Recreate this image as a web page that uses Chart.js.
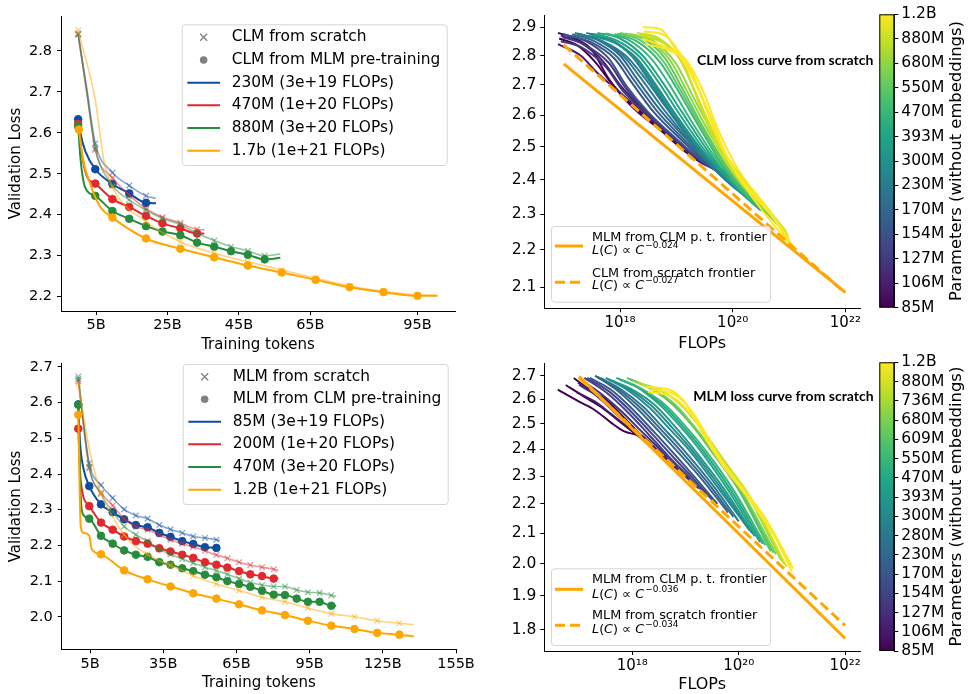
<!DOCTYPE html>
<html>
<head>
<meta charset="utf-8">
<title>CLM / MLM loss curves</title>
<script src="https://cdn.jsdelivr.net/npm/chart.js@4.4.1/dist/chart.umd.min.js"></script>
<style>
  html, body { margin: 0; padding: 0; background: #fff; }
  #fig { position: relative; width: 968px; height: 694px; overflow: hidden; }
  #fig canvas { position: absolute; }
</style>
</head>
<body>
<div id="fig">
  <canvas id="clmTokens" width="484" height="356" style="left:0;top:0"></canvas>
  <canvas id="mlmTokens" width="484" height="344" style="left:0;top:350px"></canvas>
  <canvas id="clmFlops" width="396" height="356" style="left:484px;top:0"></canvas>
  <canvas id="mlmFlops" width="396" height="344" style="left:484px;top:350px"></canvas>
  <canvas id="clmBar" width="108" height="340" style="left:860px;top:0"></canvas>
  <canvas id="mlmBar" width="108" height="344" style="left:860px;top:350px"></canvas>
</div>
<script>
// ---- top left: CLM validation loss vs training tokens (billions) ----
var clmSizes = ['230M (3e+19 FLOPs)', '470M (1e+20 FLOPs)', '880M (3e+20 FLOPs)', '1.7b (1e+21 FLOPs)'];
var clmScratchTokens = [
  [0, 2.4, 4.8, 9.6, 14.3, 19.0, 21.8],
  [0, 2.4, 4.8, 9.6, 14.3, 19.0, 23.6, 28.6, 33.3, 35.3],
  [0, 2.4, 4.8, 9.6, 14.3, 19.0, 23.6, 28.6, 33.3, 38.1, 42.8, 47.5, 52.2, 56.6],
  [0, 4.8, 7.2, 9.6, 19.0, 28.6, 38.1, 47.5, 57.0, 66.5, 76.0, 85.5, 95.0, 100.6]
];
var clmScratchLoss = [
  [2.842, 2.71, 2.574, 2.503, 2.471, 2.446, 2.44],
  [2.84, 2.70, 2.558, 2.49, 2.448, 2.415, 2.394, 2.38, 2.364, 2.363],
  [2.84, 2.70, 2.562, 2.472, 2.436, 2.411, 2.391, 2.376, 2.355, 2.337, 2.322, 2.312, 2.30, 2.304],
  [2.85, 2.68, 2.533, 2.468, 2.383, 2.334, 2.306, 2.285, 2.265, 2.245, 2.226, 2.213, 2.204, 2.203]
];
var clmPretrainTokens = [
  [0, 0.6, 2.0, 4.8, 9.6, 14.3, 19.0, 21.8],
  [0, 1.0, 2.4, 4.8, 9.6, 14.3, 19.0, 23.6, 28.6, 33.3, 35.3],
  [0, 0.7, 1.9, 4.8, 9.6, 14.3, 19.0, 23.6, 28.6, 33.3, 38.1, 42.8, 47.5, 52.2, 56.6],
  [0.2, 1.4, 3.3, 6.1, 9.6, 19.0, 28.6, 38.1, 47.5, 57.0, 66.5, 76.0, 85.5, 95.0, 100.6]
];
var clmPretrainLoss = [
  [2.633, 2.600, 2.555, 2.511, 2.475, 2.452, 2.429, 2.428],
  [2.622, 2.55, 2.495, 2.476, 2.438, 2.419, 2.397, 2.379, 2.367, 2.354, 2.354],
  [2.616, 2.533, 2.468, 2.446, 2.409, 2.39, 2.372, 2.359, 2.35, 2.332, 2.322, 2.311, 2.302, 2.291, 2.295],
  [2.608, 2.533, 2.477, 2.42, 2.393, 2.342, 2.317, 2.296, 2.276, 2.259, 2.241, 2.223, 2.211, 2.202, 2.202]
];
var clmTokenTicks = [5, 25, 45, 65, 95];
var clmLossTicks = [2.2, 2.3, 2.4, 2.5, 2.6, 2.7, 2.8];

// ---- bottom left: MLM validation loss vs training tokens (billions) ----
var mlmSizes = ['85M (3e+19 FLOPs)', '200M (1e+20 FLOPs)', '470M (3e+20 FLOPs)', '1.2B (1e+21 FLOPs)'];
var mlmScratchTokens = [
  [0.2, 4.7, 9.5, 14.3, 19.0, 23.8, 28.6, 33.4, 38.0, 42.8, 47.3, 52.1, 56.8, 58.2],
  [0.2, 4.7, 9.5, 14.3, 19.0, 23.8, 28.6, 33.4, 38.0, 42.8, 47.3, 52.1, 56.8, 61.3, 66.1, 70.7, 75.5, 80.3, 82.2],
  [0.2, 4.7, 9.5, 14.3, 19.0, 23.8, 28.6, 33.4, 38.0, 42.8, 47.3, 52.1, 56.8, 61.3, 66.1, 70.7, 75.5, 80.3, 84.9, 89.7, 94.3, 99.1, 103.9, 105.9],
  [0.2, 4.7, 9.5, 14.3, 19.0, 23.8, 28.6, 33.4, 38.0, 42.8, 47.3, 56.8, 66.1, 75.5, 84.9, 94.3, 103.9, 113.4, 122.7, 131.8, 137.7]
];
var mlmScratchLoss = [
  [2.666, 2.43, 2.369, 2.333, 2.301, 2.284, 2.275, 2.257, 2.245, 2.235, 2.225, 2.221, 2.216, 2.214],
  [2.66, 2.416, 2.348, 2.312, 2.274, 2.253, 2.244, 2.23, 2.216, 2.205, 2.196, 2.185, 2.173, 2.164, 2.153, 2.145, 2.139, 2.133, 2.13],
  [2.673, 2.42, 2.344, 2.294, 2.253, 2.23, 2.212, 2.189, 2.175, 2.162, 2.151, 2.139, 2.129, 2.119, 2.107, 2.096, 2.089, 2.085, 2.085, 2.075, 2.069, 2.067, 2.06, 2.057],
  [2.653, 2.471, 2.344, 2.28, 2.23, 2.196, 2.175, 2.157, 2.144, 2.13, 2.115, 2.092, 2.074, 2.055, 2.042, 2.025, 2.009, 2.0, 1.989, 1.982, 1.978]
];
var mlmPretrainTokens = [
  [0.2, 0.9, 2.3, 4.7, 9.5, 14.3, 19.0, 23.8, 28.6, 33.4, 38.0, 42.8, 47.3, 52.1, 56.8, 58.2],
  [0.2, 1.2, 4.7, 9.5, 14.3, 19.0, 23.8, 28.6, 33.4, 38.0, 42.8, 47.3, 52.1, 56.8, 61.3, 66.1, 70.7, 75.5, 80.3, 82.2],
  [0.2, 1.2, 2.3, 4.7, 9.5, 14.3, 19.0, 23.8, 28.6, 33.4, 38.0, 42.8, 47.3, 52.1, 56.8, 61.3, 66.1, 70.7, 75.5, 80.3, 84.9, 89.7, 94.3, 99.1, 103.9, 105.9],
  [0.2, 1.2, 2.3, 4.7, 5.7, 9.5, 19.0, 28.6, 38.0, 47.3, 56.8, 66.1, 75.5, 84.9, 94.3, 103.9, 113.4, 122.7, 131.8, 137.7]
];
var mlmPretrainLoss = [
  [2.595, 2.489, 2.416, 2.366, 2.315, 2.293, 2.273, 2.257, 2.251, 2.235, 2.224, 2.212, 2.204, 2.195, 2.193, 2.191],
  [2.527, 2.38, 2.31, 2.264, 2.244, 2.225, 2.212, 2.205, 2.192, 2.183, 2.174, 2.165, 2.153, 2.146, 2.138, 2.128, 2.119, 2.114, 2.107, 2.107],
  [2.594, 2.335, 2.285, 2.275, 2.227, 2.205, 2.186, 2.174, 2.168, 2.153, 2.146, 2.136, 2.128, 2.118, 2.111, 2.1, 2.092, 2.084, 2.073, 2.062, 2.061, 2.051, 2.042, 2.042, 2.031, 2.031],
  [2.566, 2.253, 2.235, 2.227, 2.19, 2.175, 2.13, 2.105, 2.085, 2.066, 2.051, 2.035, 2.018, 2.005, 1.989, 1.975, 1.966, 1.955, 1.95, 1.945]
];
var mlmTokenTicks = [5, 35, 65, 95, 125, 155];
var mlmLossTicks = [2.0, 2.1, 2.2, 2.3, 2.4, 2.5, 2.6, 2.7];

// ---- right: loss vs FLOPs, one curve per run, [log10 FLOPs, loss] ----
var clmParamLabels = ['85M', '106M', '127M', '154M', '170M', '230M', '300M', '393M', '470M', '550M', '680M', '880M', '1.2B'];
var clmCurveSizes = ['85M', '85M', '106M', '106M', '127M', '127M', '154M', '154M', '170M', '170M', '230M', '230M', '230M',
  '300M', '300M', '393M', '393M', '470M', '470M', '550M', '550M', '680M', '680M', '880M', '880M', '880M', '1.2B', '1.2B', '1.2B', '1.2B'];
var clmCurves = [
  [[16.9, 2.880], [17.2, 2.860], [17.5, 2.820], [17.8, 2.720], [18.2, 2.630], [18.7, 2.555], [19.2, 2.480], [19.6, 2.440], [19.9, 2.425]],
  [[16.92, 2.860], [17.25, 2.835], [17.55, 2.780], [17.85, 2.705], [18.3, 2.620], [18.8, 2.545], [19.3, 2.470], [19.75, 2.430]],
  [[16.9, 2.840], [17.3, 2.800], [17.6, 2.740], [17.9, 2.690], [18.4, 2.610], [18.9, 2.530], [19.4, 2.455], [19.85, 2.420]],
  [[16.95, 2.870], [17.3, 2.845], [17.7, 2.780], [18.0, 2.700], [18.4, 2.620], [18.9, 2.535], [19.4, 2.460], [19.95, 2.410]],
  [[16.95, 2.850], [17.3, 2.830], [17.75, 2.760], [18.05, 2.680], [18.5, 2.600], [19.0, 2.520], [19.5, 2.450], [19.95, 2.415]],
  [[16.98, 2.865], [17.35, 2.840], [17.8, 2.775], [18.1, 2.690], [18.5, 2.605], [19.0, 2.522], [19.5, 2.452], [19.98, 2.408]],
  [[17.0, 2.875], [17.4, 2.850], [17.8, 2.790], [18.1, 2.700], [18.5, 2.610], [19.0, 2.525], [19.5, 2.450], [20.0, 2.400]],
  [[17.1, 2.870], [17.5, 2.845], [17.9, 2.790], [18.2, 2.710], [18.6, 2.610], [19.1, 2.520], [19.6, 2.440], [20.1, 2.380]],
  [[17.15, 2.875], [17.55, 2.850], [17.95, 2.795], [18.25, 2.715], [18.65, 2.615], [19.15, 2.520], [19.65, 2.435], [20.15, 2.370]],
  [[17.2, 2.880], [17.6, 2.855], [18.0, 2.800], [18.3, 2.720], [18.7, 2.620], [19.2, 2.520], [19.7, 2.430], [20.2, 2.360]],
  [[17.25, 2.878], [17.65, 2.852], [18.05, 2.800], [18.38, 2.720], [18.75, 2.625], [19.25, 2.515], [19.75, 2.420], [20.25, 2.350]],
  [[17.3, 2.875], [17.7, 2.850], [18.1, 2.800], [18.45, 2.720], [18.8, 2.630], [19.3, 2.510], [19.8, 2.410], [20.3, 2.340]],
  [[17.4, 2.880], [17.8, 2.860], [18.2, 2.800], [18.5, 2.720], [18.9, 2.610], [19.4, 2.490], [19.9, 2.400], [20.4, 2.330]],
  [[17.45, 2.875], [17.85, 2.852], [18.25, 2.795], [18.55, 2.715], [18.95, 2.605], [19.45, 2.485], [19.95, 2.395], [20.42, 2.325]],
  [[17.5, 2.870], [17.9, 2.845], [18.3, 2.790], [18.6, 2.710], [19.0, 2.600], [19.5, 2.480], [20.0, 2.390], [20.45, 2.320]],
  [[17.55, 2.875], [17.95, 2.852], [18.35, 2.795], [18.68, 2.710], [19.05, 2.605], [19.52, 2.485], [20.05, 2.380], [20.48, 2.315]],
  [[17.6, 2.880], [18.0, 2.860], [18.4, 2.800], [18.75, 2.710], [19.1, 2.610], [19.55, 2.490], [20.1, 2.370], [20.5, 2.310]],
  [[17.75, 2.878], [18.15, 2.855], [18.55, 2.790], [18.88, 2.700], [19.22, 2.595], [19.68, 2.470], [20.2, 2.360], [20.6, 2.300]],
  [[17.9, 2.875], [18.3, 2.850], [18.7, 2.780], [19.0, 2.690], [19.35, 2.580], [19.8, 2.450], [20.3, 2.350], [20.7, 2.290]],
  [[17.95, 2.878], [18.35, 2.855], [18.75, 2.785], [19.05, 2.690], [19.4, 2.575], [19.85, 2.445], [20.35, 2.345], [20.75, 2.280]],
  [[18.0, 2.880], [18.4, 2.860], [18.8, 2.790], [19.1, 2.690], [19.45, 2.570], [19.9, 2.440], [20.4, 2.340], [20.8, 2.270]],
  [[18.1, 2.878], [18.5, 2.855], [18.9, 2.780], [19.2, 2.675], [19.55, 2.555], [20.0, 2.425], [20.5, 2.330], [20.85, 2.265]],
  [[18.2, 2.875], [18.6, 2.850], [19.0, 2.770], [19.3, 2.660], [19.65, 2.540], [20.1, 2.410], [20.55, 2.320], [20.9, 2.260]],
  [[18.3, 2.880], [18.7, 2.860], [19.05, 2.790], [19.35, 2.670], [19.7, 2.530], [20.1, 2.420], [20.6, 2.320], [20.95, 2.250]],
  [[18.35, 2.875], [18.75, 2.850], [19.08, 2.785], [19.38, 2.655], [19.7, 2.520], [20.1, 2.410], [20.6, 2.315], [20.98, 2.240]],
  [[18.4, 2.870], [18.8, 2.840], [19.1, 2.780], [19.4, 2.640], [19.7, 2.510], [20.1, 2.400], [20.6, 2.310], [21.0, 2.230]],
  [[18.4, 2.860], [18.8, 2.830], [19.15, 2.790], [19.45, 2.690], [19.75, 2.550], [20.1, 2.430], [20.6, 2.320], [21.0, 2.220]],
  [[18.42, 2.885], [18.8, 2.870], [19.12, 2.790], [19.4, 2.680], [19.7, 2.540], [20.0, 2.440], [20.45, 2.340], [20.85, 2.265], [21.08, 2.205]],
  [[18.45, 2.840], [18.85, 2.820], [19.2, 2.770], [19.5, 2.640], [19.8, 2.500], [20.2, 2.390], [20.65, 2.310], [21.05, 2.205]],
  [[18.4, 2.900], [18.7, 2.895], [19.05, 2.800], [19.3, 2.720], [19.6, 2.600], [19.9, 2.470], [20.3, 2.360], [20.7, 2.275], [21.1, 2.200]]
];
var clmFrontierFlops = [1e17, 1e22];
var clmPretrainFrontier = [2.771, 2.087];
var clmScratchFrontier = [2.837, 2.085];
var clmFlopsLossTicks = [2.1, 2.2, 2.3, 2.4, 2.5, 2.6, 2.7, 2.8, 2.9];

var mlmParamLabels = ['85M', '106M', '127M', '154M', '170M', '230M', '280M', '300M', '393M', '470M', '550M', '609M', '680M', '736M', '880M', '1.2B'];
var mlmCurveSizes = ['85M', '85M', '85M', '106M', '106M', '127M', '127M', '154M', '154M', '170M', '230M', '230M', '280M', '300M', '300M',
  '393M', '470M', '470M', '550M', '609M', '609M', '680M', '736M', '736M', '880M', '1.2B', '1.2B', '1.2B'];
var mlmCurves = [
  [[16.6, 2.640], [17.0, 2.590], [17.3, 2.555], [17.6, 2.505], [17.85, 2.470], [18.1, 2.455], [18.25, 2.440]],
  [[16.75, 2.660], [17.1, 2.610], [17.4, 2.570], [17.7, 2.520], [18.0, 2.470], [18.3, 2.420], [18.6, 2.365]],
  [[16.9, 2.690], [17.2, 2.640], [17.5, 2.600], [17.8, 2.535], [18.1, 2.470], [18.4, 2.410], [18.7, 2.345]],
  [[16.95, 2.630], [17.3, 2.590], [17.6, 2.540], [17.9, 2.490], [18.2, 2.450], [18.5, 2.390], [18.8, 2.330]],
  [[16.98, 2.670], [17.3, 2.620], [17.65, 2.550], [17.95, 2.490], [18.3, 2.430], [18.6, 2.375], [18.9, 2.315]],
  [[17.0, 2.660], [17.3, 2.620], [17.7, 2.550], [18.0, 2.480], [18.4, 2.410], [18.8, 2.335], [19.1, 2.280]],
  [[17.05, 2.680], [17.4, 2.625], [17.8, 2.550], [18.15, 2.475], [18.55, 2.395], [18.95, 2.315], [19.25, 2.255]],
  [[17.1, 2.690], [17.5, 2.630], [17.9, 2.550], [18.3, 2.460], [18.7, 2.370], [19.1, 2.290], [19.4, 2.230]],
  [[17.15, 2.690], [17.55, 2.635], [17.95, 2.555], [18.35, 2.465], [18.75, 2.375], [19.15, 2.290], [19.5, 2.215]],
  [[17.2, 2.690], [17.6, 2.640], [18.0, 2.560], [18.4, 2.470], [18.8, 2.380], [19.2, 2.290], [19.6, 2.200]],
  [[17.3, 2.700], [17.7, 2.640], [18.1, 2.560], [18.5, 2.470], [18.9, 2.380], [19.3, 2.290], [19.8, 2.170]],
  [[17.35, 2.695], [17.75, 2.640], [18.15, 2.565], [18.55, 2.475], [18.95, 2.385], [19.4, 2.280], [19.9, 2.155]],
  [[17.4, 2.690], [17.8, 2.640], [18.2, 2.570], [18.6, 2.480], [19.0, 2.390], [19.5, 2.270], [20.0, 2.140]],
  [[17.5, 2.690], [17.9, 2.640], [18.3, 2.570], [18.7, 2.480], [19.1, 2.390], [19.6, 2.260], [20.2, 2.110]],
  [[17.55, 2.685], [17.95, 2.640], [18.35, 2.575], [18.75, 2.485], [19.15, 2.390], [19.65, 2.260], [20.25, 2.100]],
  [[17.6, 2.680], [18.0, 2.640], [18.4, 2.580], [18.8, 2.490], [19.2, 2.390], [19.7, 2.260], [20.3, 2.090]],
  [[17.7, 2.690], [18.1, 2.650], [18.5, 2.580], [18.9, 2.490], [19.3, 2.390], [19.8, 2.250], [20.4, 2.070]],
  [[17.75, 2.685], [18.15, 2.645], [18.55, 2.580], [18.95, 2.490], [19.35, 2.390], [19.85, 2.250], [20.45, 2.065]],
  [[17.8, 2.680], [18.2, 2.640], [18.6, 2.580], [19.0, 2.490], [19.4, 2.390], [19.9, 2.250], [20.5, 2.060]],
  [[17.9, 2.690], [18.3, 2.650], [18.7, 2.590], [19.1, 2.500], [19.5, 2.390], [20.0, 2.250], [20.6, 2.040]],
  [[17.95, 2.685], [18.35, 2.645], [18.75, 2.585], [19.15, 2.490], [19.55, 2.380], [20.05, 2.240], [20.65, 2.035]],
  [[18.0, 2.680], [18.4, 2.640], [18.8, 2.580], [19.2, 2.480], [19.6, 2.370], [20.1, 2.230], [20.7, 2.030]],
  [[18.1, 2.670], [18.5, 2.640], [18.9, 2.580], [19.3, 2.480], [19.7, 2.360], [20.2, 2.220], [20.8, 2.010]],
  [[18.15, 2.665], [18.55, 2.635], [18.95, 2.570], [19.3, 2.480], [19.7, 2.365], [20.2, 2.225], [20.85, 2.000]],
  [[18.2, 2.660], [18.6, 2.630], [19.0, 2.560], [19.3, 2.480], [19.7, 2.360], [20.2, 2.230], [20.9, 1.990]],
  [[18.3, 2.630], [18.75, 2.610], [19.1, 2.540], [19.4, 2.440], [19.7, 2.340], [20.1, 2.240], [20.6, 2.110], [21.0, 1.990]],
  [[18.35, 2.640], [18.8, 2.620], [19.1, 2.555], [19.4, 2.455], [19.7, 2.350], [20.1, 2.250], [20.6, 2.120], [21.02, 1.985]],
  [[18.27, 2.650], [18.7, 2.640], [19.05, 2.570], [19.3, 2.470], [19.6, 2.370], [20.0, 2.270], [20.5, 2.150], [21.0, 1.975]]
];
var mlmFrontierFlops = [1e17, 1e22];
var mlmPretrainFrontier = [2.697, 1.775];
var mlmScratchFrontier = [2.69, 1.812];
var mlmFlopsLossTicks = [1.8, 1.9, 2.0, 2.1, 2.2, 2.3, 2.4, 2.5, 2.6, 2.7];

var flopsTicks = [1e18, 1e20, 1e22];
var flopsTickLabels = ['10¹⁸', '10²⁰', '10²²'];

// ---- styling ----
Chart.defaults.font.family = '"DejaVu Sans", sans-serif';
Chart.defaults.color = '#000';

var BLUE = '#0d4ca3', RED = '#e0282e', GREEN = '#268c3c', ORANGE = '#ffa500';
var sizeColors = [BLUE, RED, GREEN, ORANGE];
var VIRIDIS = ['#440154', '#482475', '#414487', '#355f8d', '#2a788e', '#21918c', '#22a884', '#44bf70', '#7ad151', '#bddf26', '#fde725'];

function hexRgb(h) {
  return [parseInt(h.slice(1, 3), 16), parseInt(h.slice(3, 5), 16), parseInt(h.slice(5, 7), 16)];
}
function rgba(h, a) {
  var c = hexRgb(h);
  return 'rgba(' + c[0] + ',' + c[1] + ',' + c[2] + ',' + a + ')';
}
function viridis(t) {
  var f = Math.max(0, Math.min(1, t)) * 10;
  var i = Math.min(9, Math.floor(f)), u = f - i;
  var a = hexRgb(VIRIDIS[i]), b = hexRgb(VIRIDIS[i + 1]);
  return 'rgb(' + a.map(function (v, k) { return Math.round(v + (b[k] - v) * u); }).join(',') + ')';
}

function axisGrid() {
  return { display: true, drawOnChartArea: false, drawTicks: true, tickLength: 4, color: '#000', lineWidth: 1 };
}
var axisBorder = { display: true, color: '#000', width: 1 };
function fixedTicks(vals) { return function (s) { s.ticks = vals.map(function (v) { return { value: v }; }); }; }
function fixedWidth(w) { return function (s) { s.width = w; }; }
function fixedHeight(h) { return function (s) { s.height = h; }; }

function roundRect(ctx, x, y, w, h, r) {
  ctx.beginPath();
  ctx.moveTo(x + r, y);
  ctx.lineTo(x + w - r, y); ctx.arcTo(x + w, y, x + w, y + r, r);
  ctx.lineTo(x + w, y + h - r); ctx.arcTo(x + w, y + h, x + w - r, y + h, r);
  ctx.lineTo(x + r, y + h); ctx.arcTo(x, y + h, x, y + h - r, r);
  ctx.lineTo(x, y + r); ctx.arcTo(x, y, x + r, y, r);
  ctx.closePath();
}

function drawMath(ctx, x, y, exp, size) {
  var it = 'italic ' + size + 'px "DejaVu Sans"', up = size + 'px "DejaVu Sans"';
  [[it, 'L'], [up, '('], [it, 'C'], [up, ')'], [up, ' ∝ '], [it, 'C']].forEach(function (p) {
    ctx.font = p[0];
    ctx.fillText(p[1], x, y);
    x += ctx.measureText(p[1]).width;
  });
  ctx.font = (size * 0.7).toFixed(1) + 'px "DejaVu Sans"';
  ctx.fillText(exp, x + 1, y - size * 0.42);
}

// legend boxes and annotation texts, drawn over the plot
var overlay = {
  id: 'overlay',
  afterDatasetsDraw: function (chart, args, o) {
    var ctx = chart.ctx;
    ctx.save();
    ctx.textBaseline = 'middle';
    if (o.box) {
      roundRect(ctx, o.box[0] + 0.5, o.box[1] + 0.5, o.box[2], o.box[3], 3);
      ctx.fillStyle = 'rgba(255,255,255,0.8)';
      ctx.fill();
      ctx.strokeStyle = '#d6d6d6';
      ctx.lineWidth = 1;
      ctx.stroke();
    }
    (o.rows || []).forEach(function (r) {
      var cx = (o.keyX[0] + o.keyX[1]) / 2;
      ctx.setLineDash([]);
      if (r.kind === 'cross') {
        ctx.strokeStyle = '#808080'; ctx.lineWidth = 1.3;
        ctx.beginPath();
        ctx.moveTo(cx - 3.5, r.y - 3.5); ctx.lineTo(cx + 3.5, r.y + 3.5);
        ctx.moveTo(cx - 3.5, r.y + 3.5); ctx.lineTo(cx + 3.5, r.y - 3.5);
        ctx.stroke();
      } else if (r.kind === 'dot') {
        ctx.fillStyle = '#808080';
        ctx.beginPath(); ctx.arc(cx, r.y, 3.8, 0, Math.PI * 2); ctx.fill();
      } else {
        ctx.strokeStyle = r.color; ctx.lineWidth = r.width || 2;
        if (r.dash) ctx.setLineDash(r.dash);
        ctx.beginPath(); ctx.moveTo(o.keyX[0], r.y); ctx.lineTo(o.keyX[1], r.y); ctx.stroke();
        ctx.setLineDash([]);
      }
      ctx.fillStyle = '#000';
      ctx.font = o.font;
      ctx.fillText(r.text, o.textX, r.ty || r.y);
      if (r.exp) drawMath(ctx, o.textX, r.ey, r.exp, o.fontSize);
    });
    (o.notes || []).forEach(function (n) {
      ctx.fillStyle = '#000';
      ctx.font = n.font;
      ctx.fillText(n.text, n.x, n.y);
    });
    ctx.restore();
  }
};

// colorbar frame and its rotated label
var barFrame = {
  id: 'barFrame',
  afterDraw: function (chart, args, o) {
    var a = chart.chartArea, ctx = chart.ctx;
    ctx.save();
    ctx.strokeStyle = '#000'; ctx.lineWidth = 1;
    ctx.strokeRect(a.left + 0.5, a.top + 0.5, a.right - a.left - 1, a.bottom - a.top - 1);
    ctx.translate(o.titleX, (a.top + a.bottom) / 2);
    ctx.rotate(-Math.PI / 2);
    ctx.fillStyle = '#000';
    ctx.font = '16.4px "DejaVu Sans"';
    ctx.textAlign = 'center';
    ctx.textBaseline = 'middle';
    ctx.fillText('Parameters (without embeddings)', 0, 0);
    ctx.restore();
  }
};

function tokenSeries(xs, ys, color, style, skip) {
  var last = xs.length - 1;
  var dot = style === 'circle';
  return {
    data: xs.map(function (x, i) { return { x: x, y: ys[i] }; }),
    borderColor: color,
    backgroundColor: color,
    borderWidth: dot ? 2 : 1.6,
    pointStyle: style,
    pointBorderWidth: dot ? 1 : 1.3,
    pointRadius: function (c) { return (c.dataIndex === last || skip.indexOf(c.dataIndex) >= 0) ? 0 : (dot ? 3.8 : 4); },
    cubicInterpolationMode: 'monotone'
  };
}

function tokensChart(id, o) {
  var datasets = [];
  o.sizes.forEach(function (label, s) {
    datasets.push(tokenSeries(o.scratchTokens[s], o.scratchLoss[s], rgba(sizeColors[s], 0.5), 'crossRot', o.scratchSkip[s]));
    datasets.push(tokenSeries(o.pretrainTokens[s], o.pretrainLoss[s], sizeColors[s], 'circle', o.pretrainSkip[s]));
  });
  datasets.forEach(function (d, i) { d.order = datasets.length - i; });
  var rows = [
    { kind: 'cross', y: o.rowY[0], text: o.keyText[0] },
    { kind: 'dot', y: o.rowY[1], text: o.keyText[1] }
  ];
  o.sizes.forEach(function (label, s) { rows.push({ kind: 'line', color: sizeColors[s], y: o.rowY[s + 2], text: label }); });

  new Chart(document.getElementById(id), {
    type: 'line',
    data: { datasets: datasets },
    options: {
      responsive: false,
      animation: false,
      layout: { padding: { left: 0, top: o.top, right: o.right, bottom: 0 } },
      scales: {
        x: {
          type: 'linear', min: o.xMin, max: o.xMax, bounds: 'data',
          afterBuildTicks: fixedTicks(o.xTicks), afterFit: fixedHeight(o.xHeight),
          ticks: { callback: function (v) { return v + 'B'; }, padding: 2, font: { size: 14.5 }, autoSkip: false, maxRotation: 0 },
          grid: axisGrid(), border: axisBorder,
          title: { display: true, text: 'Training tokens', font: { size: 15 }, padding: { top: 0, bottom: 2 } }
        },
        y: {
          type: 'linear', min: o.yMin, max: o.yMax, bounds: 'data',
          afterBuildTicks: fixedTicks(o.yTicks), afterFit: fixedWidth(o.yWidth),
          ticks: { callback: function (v) { return v.toFixed(1); }, padding: 5, font: { size: 14.5 }, autoSkip: false },
          grid: axisGrid(), border: axisBorder,
          title: { display: true, text: 'Validation Loss', font: { size: 15 }, padding: { top: 6.7, bottom: 0 } }
        }
      },
      plugins: {
        legend: { display: false },
        tooltip: { enabled: false },
        overlay: { box: o.box, keyX: o.keyX, textX: o.textX, font: '15.4px "DejaVu Sans"', rows: rows }
      }
    },
    plugins: [overlay]
  });
}

function flopsChart(id, o) {
  var n = o.paramLabels.length - 1;
  var datasets = o.curves.map(function (pts, i) {
    return {
      data: pts.map(function (p) { return { x: Math.pow(10, p[0]), y: p[1] }; }),
      borderColor: viridis(o.paramLabels.indexOf(o.curveSizes[i]) / n),
      borderWidth: 2, pointRadius: 0, cubicInterpolationMode: 'monotone',
      order: 2 + o.curves.length - i
    };
  });
  datasets.push({
    data: o.frontierFlops.map(function (x, i) { return { x: x, y: o.pretrainFrontier[i] }; }),
    borderColor: ORANGE, borderWidth: 3, pointRadius: 0, order: 1
  });
  datasets.push({
    data: o.frontierFlops.map(function (x, i) { return { x: x, y: o.scratchFrontier[i] }; }),
    borderColor: ORANGE, borderWidth: 3, borderDash: [10, 5], pointRadius: 0, order: 0
  });

  new Chart(document.getElementById(id), {
    type: 'line',
    data: { datasets: datasets },
    options: {
      responsive: false,
      animation: false,
      layout: { padding: { left: 0, top: o.top, right: 20, bottom: 0 } },
      scales: {
        x: {
          type: 'logarithmic', min: o.xMin, max: o.xMax, bounds: 'data',
          afterBuildTicks: fixedTicks(flopsTicks), afterFit: fixedHeight(o.xHeight),
          ticks: { callback: function (v, i) { return flopsTickLabels[i]; }, padding: 2, font: { size: 15 }, autoSkip: false, maxRotation: 0 },
          grid: axisGrid(), border: axisBorder,
          title: { display: true, text: 'FLOPs', font: { size: 16 }, padding: { top: 0, bottom: o.titlePad } }
        },
        y: {
          type: 'logarithmic', min: o.yMin, max: o.yMax, bounds: 'data',
          afterBuildTicks: fixedTicks(o.yTicks), afterFit: fixedWidth(60.3),
          ticks: { callback: function (v) { return v.toFixed(1); }, padding: 4, font: { size: 15.5 }, autoSkip: false },
          grid: axisGrid(), border: axisBorder
        }
      },
      plugins: {
        legend: { display: false },
        tooltip: { enabled: false },
        overlay: {
          box: o.box, keyX: [71, 99], textX: 108, font: '12.8px "DejaVu Sans"', fontSize: 12.8,
          rows: [
            { kind: 'line', color: ORANGE, width: 3, y: o.keyY[0], text: o.keyText[0], ty: o.textY[0], exp: o.exps[0], ey: o.textY[1] },
            { kind: 'line', color: ORANGE, width: 3, dash: [10, 5], y: o.keyY[1], text: o.keyText[1], ty: o.textY[2], exp: o.exps[1], ey: o.textY[3] }
          ],
          notes: [{ text: o.note, x: o.noteX, y: o.noteY, font: 'bold 14px Lato' }]
        }
      }
    },
    plugins: [overlay]
  });
}

function colorbar(id, labels, o) {
  new Chart(document.getElementById(id), {
    type: 'bar',
    data: {
      labels: [''],
      datasets: [{
        data: [[0, labels.length - 1]],
        backgroundColor: function (c) {
          var a = c.chart.chartArea;
          if (!a) return VIRIDIS[0];
          var g = c.chart.ctx.createLinearGradient(0, a.bottom, 0, a.top);
          VIRIDIS.forEach(function (col, i) { g.addColorStop(i / 10, col); });
          return g;
        },
        borderWidth: 0, barPercentage: 1, categoryPercentage: 1
      }]
    },
    options: {
      responsive: false,
      animation: false,
      layout: { padding: { left: 19.3, top: o.top, right: 0, bottom: o.bottom } },
      scales: {
        x: { display: false },
        y: {
          position: 'right', min: 0, max: labels.length - 1, bounds: 'data',
          afterBuildTicks: fixedTicks(labels.map(function (l, i) { return i; })), afterFit: fixedWidth(73.7),
          ticks: { callback: function (v) { return labels[v]; }, padding: 3, font: { size: 15.5 }, autoSkip: false },
          grid: axisGrid(), border: axisBorder
        }
      },
      plugins: { legend: { display: false }, tooltip: { enabled: false }, barFrame: { titleX: 96.7 } }
    },
    plugins: [barFrame]
  });
}

tokensChart('clmTokens', {
  sizes: clmSizes,
  scratchTokens: clmScratchTokens, scratchLoss: clmScratchLoss,
  pretrainTokens: clmPretrainTokens, pretrainLoss: clmPretrainLoss,
  scratchSkip: [[1], [1], [1], [1, 2]],
  pretrainSkip: [[1, 2], [1, 2], [1, 2], [1, 2, 3]],
  xMin: -4.8, xMax: 105.5, xTicks: clmTokenTicks,
  yMin: 2.165, yMax: 2.885, yTicks: clmLossTicks,
  top: 16, right: 29, xHeight: 45, yWidth: 61,
  box: [181.7, 24.3, 265, 140.7], keyX: [187.3, 220], textX: 231.7,
  rowY: [37.3, 60, 82.7, 105.3, 128, 150.7],
  keyText: ['CLM from scratch', 'CLM from MLM pre-training']
});

tokensChart('mlmTokens', {
  sizes: mlmSizes,
  scratchTokens: mlmScratchTokens, scratchLoss: mlmScratchLoss,
  pretrainTokens: mlmPretrainTokens, pretrainLoss: mlmPretrainLoss,
  scratchSkip: [[], [], [], [1, 3, 5, 7, 9]],
  pretrainSkip: [[1, 2], [1], [1, 2], [1, 2, 3, 4]],
  xMin: -6.6, xMax: 155, xTicks: mlmTokenTicks,
  yMin: 1.909, yMax: 2.709, yTicks: mlmLossTicks,
  top: 6, right: 28, xHeight: 44.7, yWidth: 61.7,
  box: [182.7, 14, 265, 140], keyX: [188.3, 221], textX: 232.7,
  rowY: [26.7, 49.3, 71.7, 94.3, 117, 139.7],
  keyText: ['MLM from scratch', 'MLM from CLM pre-training']
});

flopsChart('clmFlops', {
  paramLabels: clmParamLabels, curveSizes: clmCurveSizes, curves: clmCurves,
  frontierFlops: clmFrontierFlops, pretrainFrontier: clmPretrainFrontier, scratchFrontier: clmScratchFrontier,
  xMin: 4.53e16, xMax: 1.82e22, yMin: 2.046, yMax: 2.9446, yTicks: clmFlopsLossTicks,
  top: 15, xHeight: 47.7, titlePad: 3,
  box: [67, 226, 219, 75.7], keyY: [246, 282.3], textY: [237.3, 250.7, 273.3, 286],
  keyText: ['MLM from CLM p. t. frontier', 'CLM from scratch frontier'], exps: ['−0.024', '−0.027'],
  note: 'CLM loss curve from scratch', noteX: 213, noteY: 60.7
});

flopsChart('mlmFlops', {
  paramLabels: mlmParamLabels, curveSizes: mlmCurveSizes, curves: mlmCurves,
  frontierFlops: mlmFrontierFlops, pretrainFrontier: mlmPretrainFrontier, scratchFrontier: mlmScratchFrontier,
  xMin: 2.22e16, xMax: 1.9e22, yMin: 1.740, yMax: 2.7536, yTicks: mlmFlopsLossTicks,
  top: 6.7, xHeight: 43, titlePad: 0,
  box: [67, 218.3, 219, 76.7], keyY: [239.3, 275.3], textY: [230, 245, 265.7, 280],
  keyText: ['MLM from CLM p. t. frontier', 'MLM from scratch frontier'], exps: ['−0.036', '−0.034'],
  note: 'MLM loss curve from scratch', noteX: 209.3, noteY: 46
});

colorbar('clmBar', clmParamLabels, { top: 14.3, bottom: 32.3 });
colorbar('mlmBar', mlmParamLabels, { top: 7.3, bottom: 43 });
</script>
</body>
</html>
